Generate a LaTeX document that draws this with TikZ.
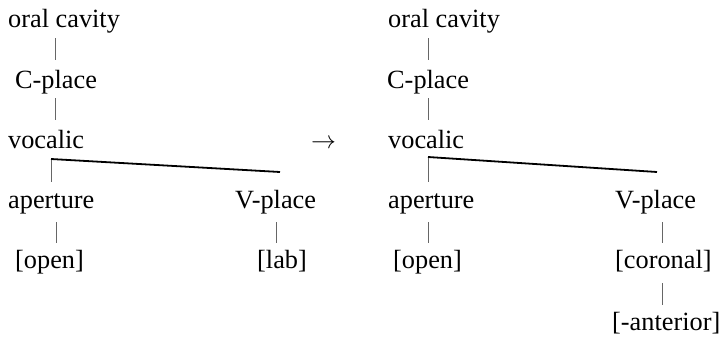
\documentclass[tikz,border=0pt]{standalone}
\usepackage{fontspec}
\setmainfont{Liberation Serif}
\begin{document}
\begin{tikzpicture}[x=1pt,y=-1pt,
  lbl/.style={anchor=base west,inner sep=0pt,font=\fontsize{26.3}{30}\selectfont},
  vline/.style={draw=black!60,line width=1pt},
  bline/.style={draw=black,line width=1.8pt}]
\useasboundingbox (0,0) rectangle (723,338);
% left tree
\node[lbl] (loc) at (8,27) {oral cavity};
\node[lbl] (lcp) at (15,88) {C-place};
\node[lbl] (lvo) at (8,148) {vocalic};
\node[lbl] (lap) at (8,208) {aperture};
\node[lbl] (lvp) at (235,208) {V-place};
\node[lbl] (lop) at (15,268) {[open]};
\node[lbl] (llb) at (257,268) {[lab]};
\coordinate (l1a) at (55,38); \coordinate (l1b) at (55,60);
\coordinate (l2a) at (55,98); \coordinate (l2b) at (55,120);
\coordinate (l3a) at (51,159); \coordinate (l3b) at (51,182);
\coordinate (l3c) at (280,172);
\coordinate (l4a) at (56,222); \coordinate (l4b) at (56,243);
\coordinate (l5a) at (276,222); \coordinate (l5b) at (276,243);
\draw[vline] (l1a) -- (l1b);
\draw[vline] (l2a) -- (l2b);
\draw[vline] (l3a) -- (l3b);
\draw[bline] (l3a) -- (l3c);
\draw[vline] (l4a) -- (l4b);
\draw[vline] (l5a) -- (l5b);
% arrow
\node[lbl] (arr) at (311,148) {$\rightarrow$};
% right tree
\node[lbl] (roc) at (388,27) {oral cavity};
\node[lbl] (rcp) at (387,88) {C-place};
\node[lbl] (rvo) at (388,148) {vocalic};
\node[lbl] (rap) at (388,208) {aperture};
\node[lbl] (rvp) at (615,208) {V-place};
\node[lbl] (rop) at (393,268) {[open]};
\node[lbl] (rco) at (615,268) {[coronal]};
\node[lbl] (ran) at (612,330) {[-anterior]};
\coordinate (r1a) at (428,38); \coordinate (r1b) at (428,60);
\coordinate (r2a) at (428,98); \coordinate (r2b) at (428,120);
\coordinate (r3a) at (428,157); \coordinate (r3b) at (428,182);
\coordinate (r3c) at (657,172);
\coordinate (r4a) at (428,222); \coordinate (r4b) at (428,243);
\coordinate (r5a) at (662,222); \coordinate (r5b) at (662,243);
\coordinate (r6a) at (662,283); \coordinate (r6b) at (662,305);
\draw[vline] (r1a) -- (r1b);
\draw[vline] (r2a) -- (r2b);
\draw[vline] (r3a) -- (r3b);
\draw[bline] (r3a) -- (r3c);
\draw[vline] (r4a) -- (r4b);
\draw[vline] (r5a) -- (r5b);
\draw[vline] (r6a) -- (r6b);
\end{tikzpicture}
\end{document}
